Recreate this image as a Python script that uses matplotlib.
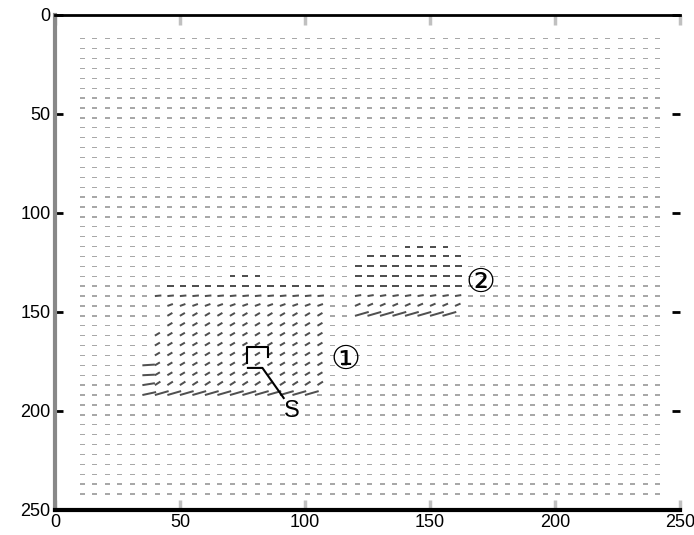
import numpy as np
import matplotlib.pyplot as plt

# grid of the flow field (pixel coords of the image)
GRID_X = list(range(10, 245, 5))
GRID_Y = list(range(12, 245, 5))

# background flow: short horizontal vectors
BG_U = 2.0
BG_V = 0.0

# moving region 1: rows (y), column span, vector per row
R1_Y  = [132, 137, 142, 147, 152, 157, 162, 167, 172, 177, 182, 187, 192]
R1_X0 = [ 70,  45,  40,  45,  45,  45,  40,  40,  40,  40,  40,  40,  40]
R1_X1 = [ 80, 105, 105, 105, 105, 105, 105, 105, 105, 105, 105, 105, 100]
R1_U  = [2.2, 2.5, 2.6, 2.2, 2.0, 2.0, 2.0, 2.0, 2.0, 2.0, 2.0, 2.2, 5.5]
R1_V  = [0.0, 0.0, -0.3, -1.0, -1.5, -1.5, -1.5, -1.5, -1.5, -1.5, -1.5, -1.8, -2.0]

# left edge of region 1 (longer, nearly horizontal)
R1E_X = [35, 35, 35, 35]
R1E_Y = [177, 182, 187, 192]
R1E_U = [5.0, 5.0, 5.0, 5.5]
R1E_V = [-0.4, -0.3, -1.0, -1.5]

# moving region 2
R2_Y  = [117, 122, 127, 132, 137, 142, 147, 152]
R2_X0 = [140, 125, 120, 120, 120, 120, 120, 120]
R2_X1 = [155, 160, 160, 160, 160, 160, 160, 155]
R2_U  = [2.2, 2.5, 2.8, 2.8, 2.8, 2.5, 2.2, 5.5]
R2_V  = [0.0, 0.0, 0.0, 0.0, 0.0, -0.5, -1.2, -2.0]

LABEL_1 = "\u2460"
LABEL_2 = "\u2461"
LABEL_S = "S"

X_TICKS = [0, 50, 100, 150, 200, 250]
Y_TICKS = [0, 50, 100, 150, 200, 250]

gx, gy = np.meshgrid(GRID_X, GRID_Y)
U = np.full(gx.shape, BG_U)
V = np.full(gx.shape, BG_V)
moving = np.zeros(gx.shape, dtype=bool)

for y, x0, x1, u, v in zip(R1_Y, R1_X0, R1_X1, R1_U, R1_V):
    m = (gy == y) & (gx >= x0) & (gx <= x1)
    U[m], V[m] = u, v
    moving |= m
for x, y, u, v in zip(R1E_X, R1E_Y, R1E_U, R1E_V):
    m = (gy == y) & (gx == x)
    U[m], V[m] = u, v
    moving |= m
for y, x0, x1, u, v in zip(R2_Y, R2_X0, R2_X1, R2_U, R2_V):
    m = (gy == y) & (gx >= x0) & (gx <= x1)
    U[m], V[m] = u, v
    moving |= m

fig = plt.figure(figsize=(6.94, 5.35), dpi=100)
ax = fig.add_axes([0.079, 0.047, 0.901, 0.925])

common = dict(angles="xy", scale_units="xy", scale=1, pivot="tail",
              headwidth=1, headlength=0, headaxislength=0)
bg = ~moving
ax.quiver(gx[bg], gy[bg], U[bg], V[bg], color="#a8a8a8", width=0.0022, **common)
ax.quiver(gx[moving], gy[moving], U[moving], V[moving], color="#505050",
          width=0.0032, **common)

# square around S and leader line
ax.plot([85.2, 85.2, 76.8, 76.8], [173, 167.7, 167.7, 176], color="black", lw=1.5)
ax.plot([77.2, 83.0, 91.5], [178.3, 178.3, 193.5], color="black", lw=1.5)
ax.text(94.8, 200, LABEL_S, fontsize=17, ha="center", va="center",
        family=["Liberation Sans", "DejaVu Sans"])
ax.text(116, 174, LABEL_1, fontsize=24, ha="center", va="center",
        family=["DejaVu Sans", "Noto Sans CJK SC"])
ax.text(170, 135, LABEL_2, fontsize=24, ha="center", va="center",
        family=["DejaVu Sans", "Noto Sans CJK SC"])

ax.set_xlim(0, 250)
ax.set_ylim(250, 0)
ax.set_xticks(X_TICKS)
ax.set_yticks(Y_TICKS)
for lab in ax.get_xticklabels() + ax.get_yticklabels():
    lab.set_family("Liberation Sans")
    lab.set_fontsize(13)
ax.tick_params(axis="x", direction="in", length=7, width=2.5, color="#c0c0c0",
               top=True, pad=3)
ax.tick_params(axis="y", direction="in", length=6, width=2, color="black",
               right=True, pad=3)

ax.spines["top"].set_linewidth(2)
ax.spines["bottom"].set_linewidth(3)
ax.spines["left"].set_color("#888888")
ax.spines["left"].set_linewidth(3)
ax.spines["right"].set_visible(False)

fig.savefig("out.png", dpi=100)
